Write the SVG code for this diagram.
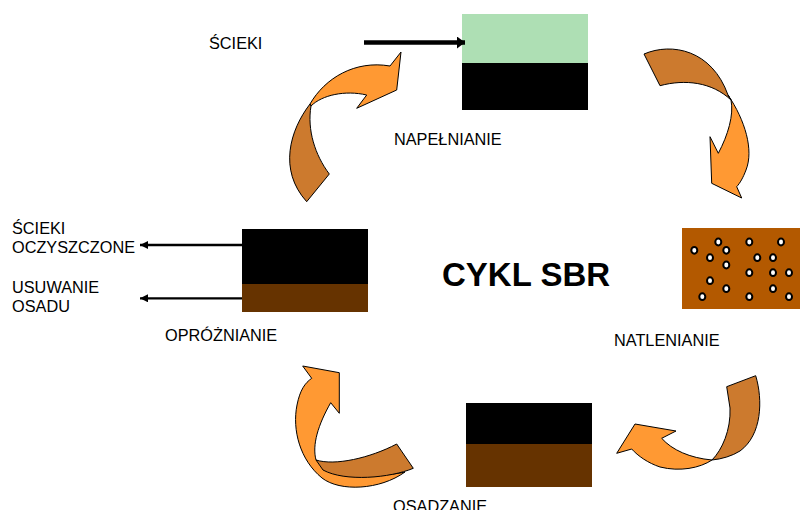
<svg xmlns="http://www.w3.org/2000/svg" width="800" height="510" viewBox="0 0 800 510">
<style>
text{font-family:"Liberation Sans",Arial,sans-serif;font-size:16.3px;fill:#000}
.title{font-size:33px;font-weight:bold}
.lt{fill:#FF9933;stroke:#000;stroke-width:1;stroke-linejoin:round}
.dk{fill:#CC7A2E;stroke:#000;stroke-width:1;stroke-linejoin:round}
.bub{fill:#fff;stroke:#000;stroke-width:2}
.ln{stroke:#000;fill:none}
</style>
<defs>
<marker id="ah" viewBox="0 0 10 10" refX="10" refY="5" markerWidth="8" markerHeight="8" markerUnits="userSpaceOnUse" orient="auto"><path d="M0,0 L10,5 L0,10 Z" fill="#000"/></marker>
<marker id="ahBig" viewBox="0 0 10 10" refX="10" refY="5" markerWidth="8" markerHeight="12" markerUnits="userSpaceOnUse" orient="auto" preserveAspectRatio="none"><path d="M0,0 L10,5 L0,10 Z" fill="#000"/></marker>
</defs>
<rect width="800" height="510" fill="#fff"/>

<g id="napelnianie">
<rect x="462" y="14" width="126" height="49" fill="#AEDFB4"/>
<rect x="462" y="63" width="126" height="47" fill="#000"/>
<text x="394" y="145">NAPEŁNIANIE</text>
</g>

<g id="natlenianie">
<rect x="682" y="228" width="118" height="81" fill="#B35900"/>
<ellipse class="bub" cx="718.3" cy="242" rx="3" ry="3.4"/>
<ellipse class="bub" cx="694.3" cy="250.3" rx="3" ry="3.4"/>
<ellipse class="bub" cx="726.3" cy="250.3" rx="3" ry="3.4"/>
<ellipse class="bub" cx="710" cy="257.7" rx="3" ry="3.4"/>
<ellipse class="bub" cx="749.3" cy="242" rx="3" ry="3.4"/>
<ellipse class="bub" cx="781" cy="242" rx="3" ry="3.4"/>
<ellipse class="bub" cx="757.3" cy="257.7" rx="3" ry="3.4"/>
<ellipse class="bub" cx="773" cy="257.7" rx="3" ry="3.4"/>
<ellipse class="bub" cx="726.3" cy="265" rx="3" ry="3.4"/>
<ellipse class="bub" cx="749.3" cy="272.7" rx="3" ry="3.4"/>
<ellipse class="bub" cx="773" cy="272.7" rx="3" ry="3.4"/>
<ellipse class="bub" cx="789" cy="272.7" rx="3" ry="3.4"/>
<ellipse class="bub" cx="710" cy="280.7" rx="3" ry="3.4"/>
<ellipse class="bub" cx="726.3" cy="288.7" rx="3" ry="3.4"/>
<ellipse class="bub" cx="773" cy="288.7" rx="3" ry="3.4"/>
<ellipse class="bub" cx="702.3" cy="296.7" rx="3" ry="3.4"/>
<ellipse class="bub" cx="749.3" cy="296.7" rx="3" ry="3.4"/>
<ellipse class="bub" cx="789" cy="296.7" rx="3" ry="3.4"/>
<text x="614" y="346">NATLENIANIE</text>
</g>

<g id="osadzanie">
<rect x="466" y="403" width="126" height="41" fill="#000"/>
<rect x="466" y="444" width="126" height="43" fill="#663300"/>
<text x="393" y="512">OSADZANIE</text>
</g>

<g id="oprozniane">
<rect x="242" y="229" width="126" height="55" fill="#000"/>
<rect x="242" y="284" width="126" height="28" fill="#663300"/>
<text x="165" y="341">OPRÓŻNIANIE</text>
</g>

<g id="scieki-in">
<text x="209" y="49">ŚCIEKI</text>
</g>
<g id="scieki-out">
<text x="12" y="234">ŚCIEKI</text>
<text x="12" y="252.7">OCZYSZCZONE</text>
</g>
<g id="usuwanie-osadu">
<text x="12" y="293">USUWANIE</text>
<text x="12" y="311.7">OSADU</text>
</g>

<g id="title">
<text class="title" x="442" y="286">CYKL SBR</text>
</g>

<g id="connectors">
<line class="ln" x1="364" y1="42.5" x2="465" y2="42.5" stroke-width="4.5" marker-end="url(#ahBig)"/>
<line class="ln" x1="242" y1="245" x2="140" y2="245" stroke-width="2.3" marker-end="url(#ah)"/>
<line class="ln" x1="242" y1="298.3" x2="140" y2="298.3" stroke-width="2.3" marker-end="url(#ah)"/>

<g id="cycle-arrow-1">
<path class="lt" d="M310,104 C325,78 355,60 390,66 L401,52 L396.7,90 L356.7,108.3 L366.7,95 C345,90 322,95 311,106 Z"/>
<path class="dk" d="M310,104 C290,130 278,170 306.7,201.7 L329.3,174 C315,155 307,130 311,106 Z"/>
</g>
<g id="cycle-arrow-2">
<path class="dk" d="M644,54 C672,42 712,50 728,95 L731,100 C712,82 685,79 660,85.7 Z"/>
<path class="lt" d="M728,95 C745,120 754,150 746,170 C743,178 740,183 736.7,186.7 L741.7,198 L711.7,183.3 L710,136.7 L718.3,153.3 C728,135 734,115 731,100 Z"/>
</g>
<g id="cycle-arrow-3">
<path class="lt" d="M712,460 C700,468 680,472 660,467 C648,463 638,456 631.7,449 L616.7,453.3 L635,424 L676,431 L661.7,438.3 C672,450 690,458 712,460 Z"/>
<path class="dk" d="M726.7,386.7 L755.7,375.7 C763,400 762,435 740,451 C732,456 722,459 712,460 C722,450 731,430 730,408 Z"/>
</g>
<g id="cycle-arrow-4">
<path class="lt" d="M405,472 C380,490 340,492 322,478 C300,460 292,430 297,405 C300,390 305,383 311.7,378.3 L302.7,366 L339.3,372.7 L339.3,413.3 L330.7,402.7 C318,425 312,445 316,460 C335,475 380,478 405,472 Z"/>
<path class="dk" d="M316,460 C335,466 370,458 396.7,444 L413.3,468.3 C390,478 345,482 323,470 Z"/>
</g>
</g>
</svg>
